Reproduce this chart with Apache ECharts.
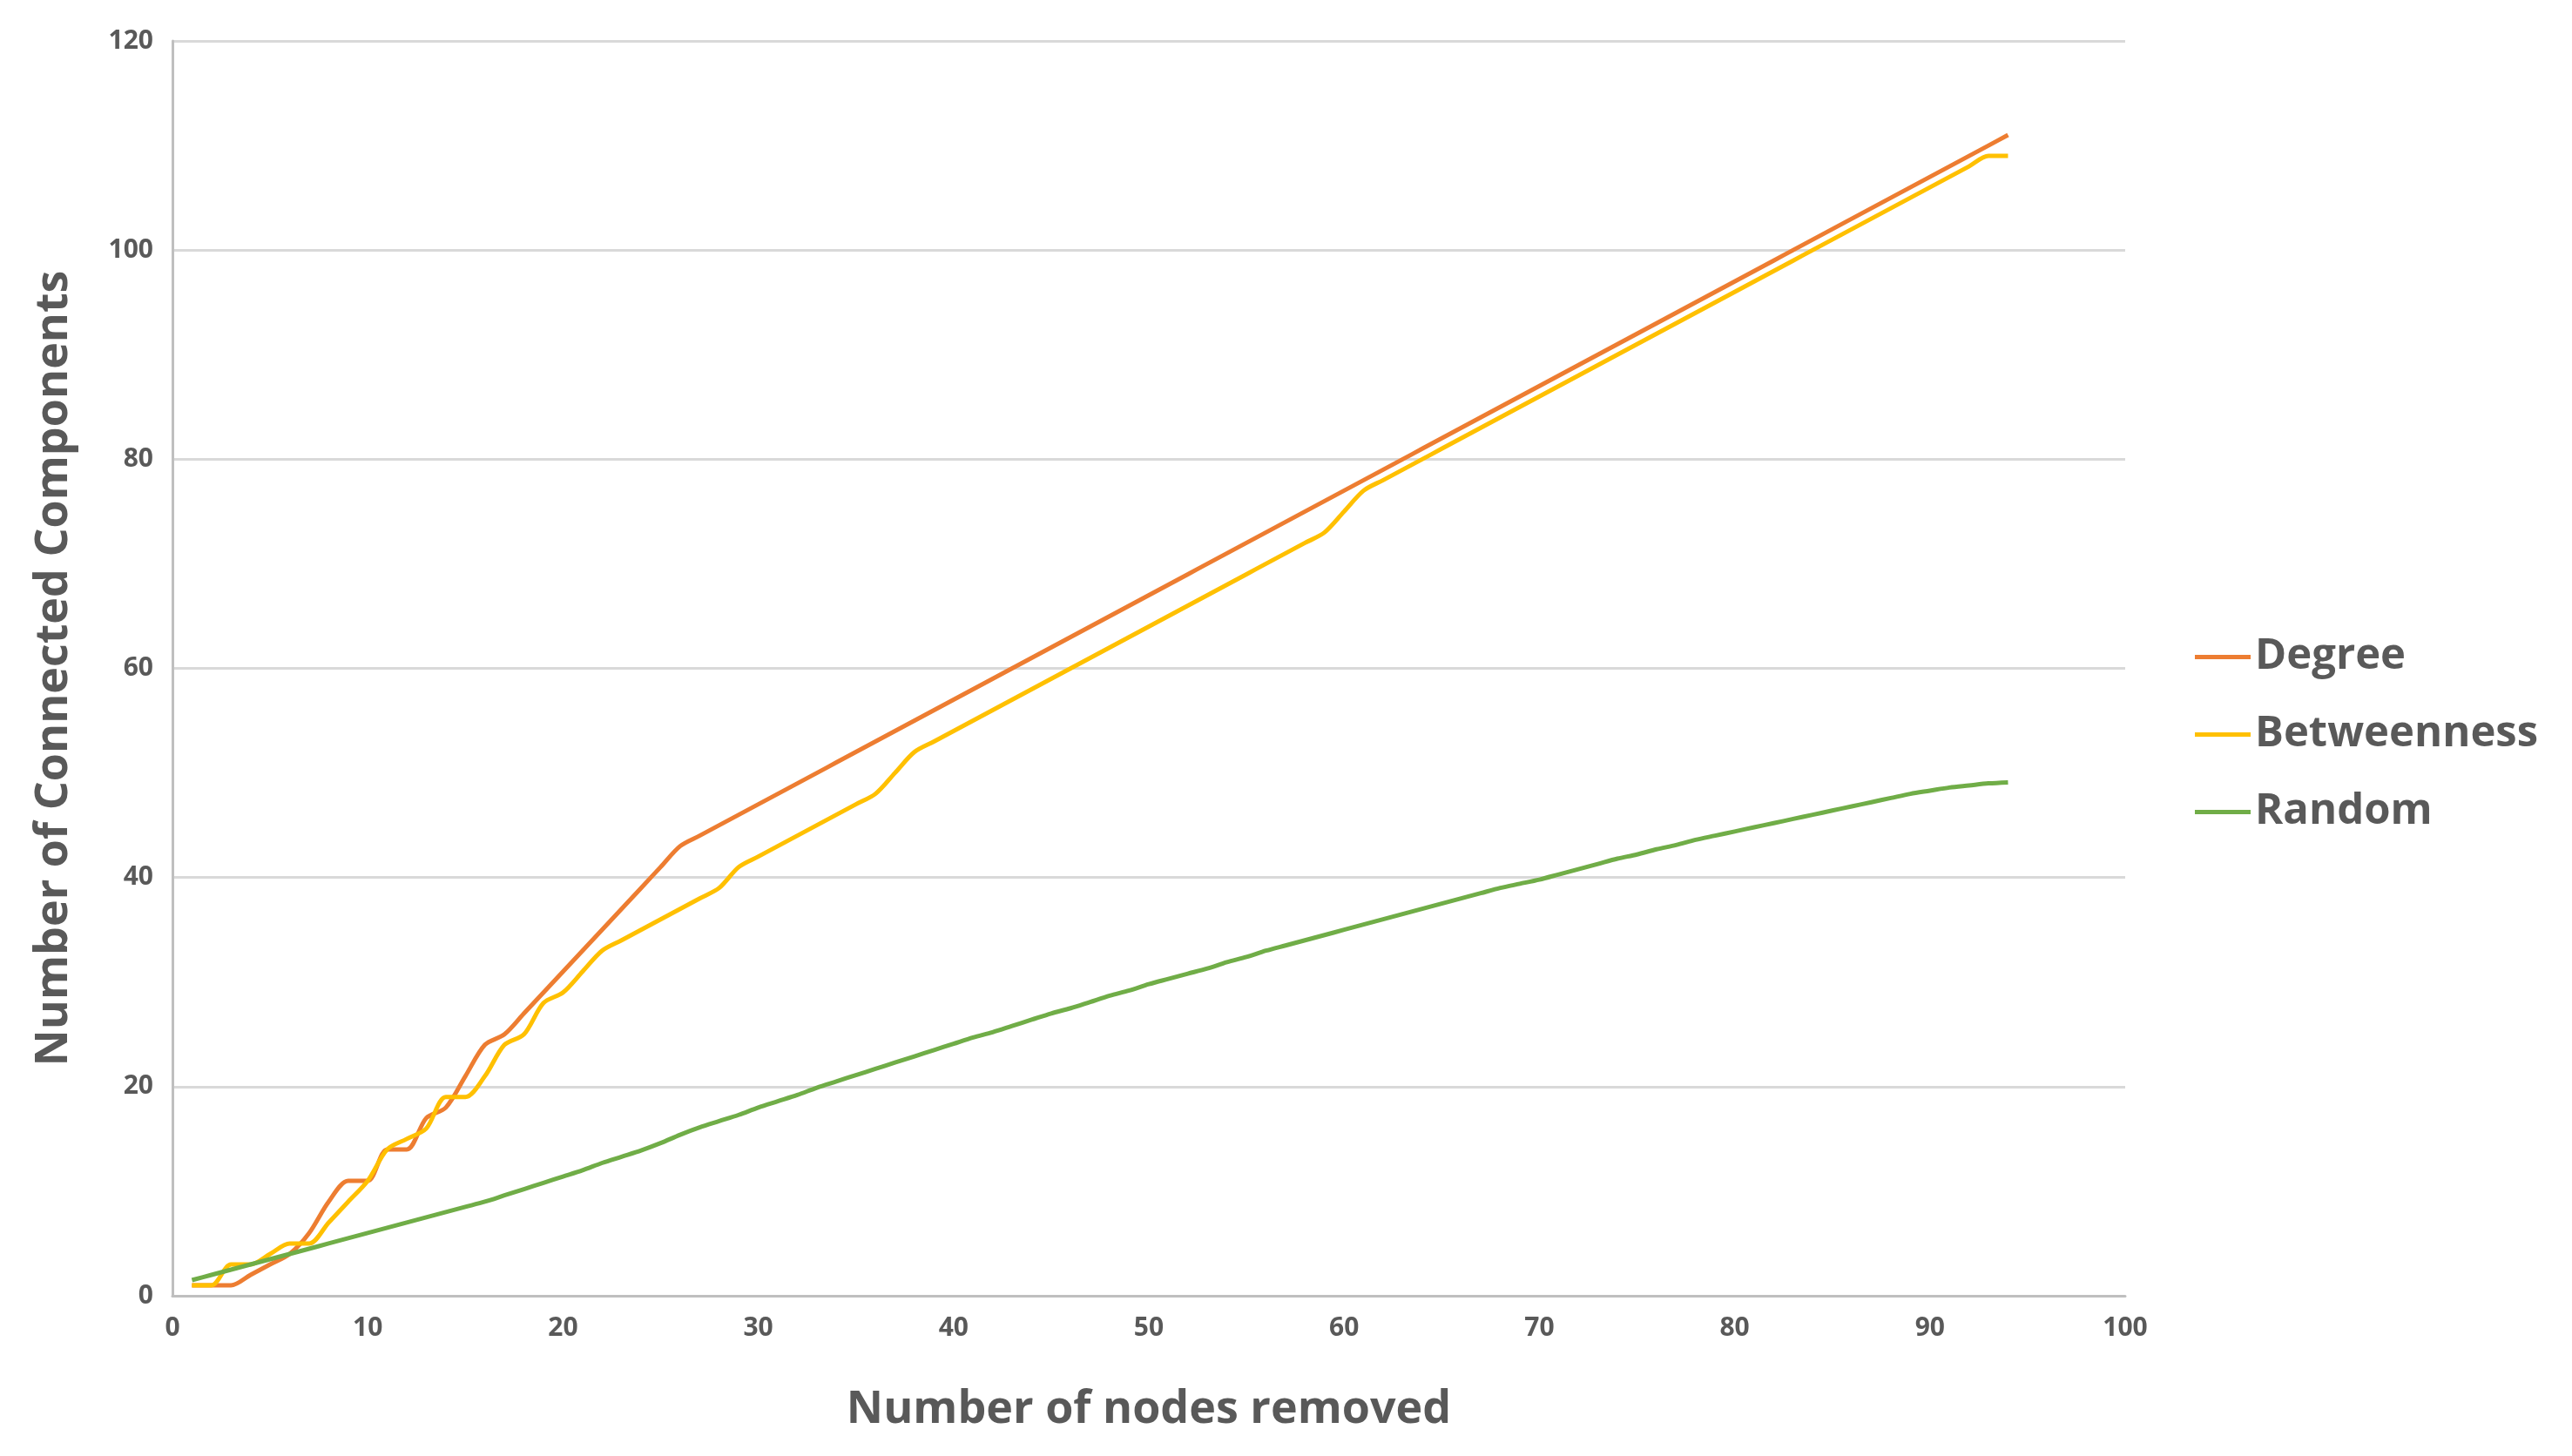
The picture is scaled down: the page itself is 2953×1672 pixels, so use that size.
<!DOCTYPE html>
<html>
<head>
<meta charset="utf-8">
<script src="https://cdn.jsdelivr.net/npm/echarts@6/dist/echarts.min.js"></script>
<style>html,body{margin:0;padding:0;background:#fff}#chart{width:2953px;height:1672px}</style>
</head>
<body>
<div id="chart"></div>
<script>
// x = nodes removed, 1..94
const degree = [1,1,1,2,3,4,6,9,11,11,14,14,17,18,21,24,25,27,29,31,33,35,37,39,41,43,44,45,46,47,
  48,49,50,51,52,53,54,55,56,57,58,59,60,61,62,63,64,65,66,67,68,69,70,71,72,73,74,75,76,77,
  78,79,80,81,82,83,84,85,86,87,88,89,90,91,92,93,94,95,96,97,98,99,100,101,102,103,104,105,106,107,
  108,109,110,111];
const betweenness = [1,1,3,3,4,5,5,7,9,11,14,15,16,19,19,21,24,25,28,29,31,33,34,35,36,37,38,39,41,42,
  43,44,45,46,47,48,50,52,53,54,55,56,57,58,59,60,61,62,63,64,65,66,67,68,69,70,71,72,73,75,
  77,78,79,80,81,82,83,84,85,86,87,88,89,90,91,92,93,94,95,96,97,98,99,100,101,102,103,104,105,106,
  107,108,109,109];
const random = [1.5,2,2.5,3,3.5,4,4.5,5,5.5,6,6.5,7,7.5,8,8.5,9,9.6,10.2,10.8,11.4,12,12.7,13.3,13.9,14.6,15.4,16.1,16.7,17.3,18,
  18.6,19.2,19.9,20.5,21.1,21.7,22.3,22.9,23.5,24.1,24.7,25.2,25.8,26.4,27,27.5,28.1,28.7,29.2,29.8,30.3,30.8,31.3,31.9,32.4,33,33.5,34,34.5,35,
  35.5,36,36.5,37,37.5,38,38.5,39,39.4,39.8,40.3,40.8,41.3,41.8,42.2,42.7,43.1,43.6,44,44.4,44.8,45.2,45.6,46,46.4,46.8,47.2,47.6,48,48.3,
  48.6,48.8,49,49.1];
const xs = degree.map((_, i) => i + 1);
const pair = arr => arr.map((v, i) => [xs[i], v]);

const chart = echarts.init(document.getElementById('chart'));
const txt = '#595959';
const line = (name, data, color) => ({
  name, type: 'line', data: pair(data), smooth: 0.3, showSymbol: false,
  lineStyle: { color, width: 5 }, itemStyle: { color }
});
chart.setOption({
  animation: false,
  grid: { left: 198, right: 513, top: 47, bottom: 184 },
  legend: {
    orient: 'vertical', left: 2515, top: 725, itemGap: 40,
    icon: 'rect', itemWidth: 64, itemHeight: 5,
    textStyle: { fontSize: 49, fontWeight: 'bold', color: txt, fontFamily: 'Open Sans' },
    data: ['Degree', 'Betweenness', 'Random']
  },
  xAxis: {
    type: 'value', min: 0, max: 100, interval: 10,
    name: 'Number of nodes removed', nameLocation: 'middle', nameGap: 105,
    nameTextStyle: { fontSize: 52, fontWeight: 'bold', color: txt, fontFamily: 'Open Sans' },
    axisLine: { lineStyle: { color: '#bfbfbf', width: 3 } },
    axisTick: { show: false }, splitLine: { show: false },
    axisLabel: { fontSize: 30, fontWeight: 'bold', color: txt, margin: 22, fontFamily: 'Open Sans' }
  },
  yAxis: {
    type: 'value', min: 0, max: 120, interval: 20,
    name: 'Number of Connected Components', nameLocation: 'middle', nameGap: 110,
    nameTextStyle: { fontSize: 52, fontWeight: 'bold', color: txt, fontFamily: 'Open Sans' },
    axisLine: { show: true, lineStyle: { color: '#bfbfbf', width: 3 } },
    axisTick: { show: false },
    splitLine: { lineStyle: { color: '#d9d9d9', width: 3 } },
    axisLabel: { fontSize: 30, fontWeight: 'bold', color: txt, margin: 22, fontFamily: 'Open Sans' }
  },
  series: [
    line('Degree', degree, '#ed7d31'),
    line('Betweenness', betweenness, '#ffc000'),
    line('Random', random, '#70ad47')
  ]
});
</script>
</body>
</html>
